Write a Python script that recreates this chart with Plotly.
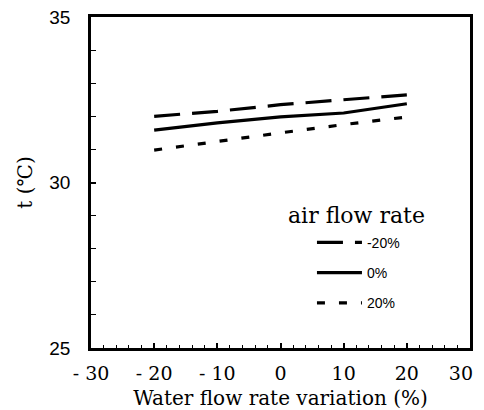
import plotly.graph_objects as go

water_var = [-20, -10, 0, 10, 20]
t_air_m20 = [32.0, 32.15, 32.35, 32.5, 32.65]
t_air_0 = [31.58, 31.8, 31.98, 32.1, 32.38]
t_air_p20 = [30.98, 31.25, 31.5, 31.75, 31.98]
series_names = ["-20%", "0%", "20%"]

x_tickvals = [-30, -20, -10, 0, 10, 20, 30]
x_ticktext = ["- 30", "- 20", "- 10", "0", "10", "20", "30\u00a0\u00a0\u00a0"]
y_tickvals = [25, 30, 35]

fig = go.Figure()
styles = [dict(dash="26px,12px"), dict(dash="solid"), dict(dash="8px,14px")]
for i, (name, ys, st) in enumerate(zip(series_names, [t_air_m20, t_air_0, t_air_p20], styles)):
    fig.add_trace(go.Scatter(x=water_var, y=ys, mode="lines", name=name,
                             legendgroup=f"g{i}",
                             line=dict(color="black", width=3.2, dash=st["dash"])))

# page body has an 8px default margin, so the figure is sized/offset to compensate
fig.update_layout(
    width=476, height=402,
    margin=dict(l=83, r=14, t=9, b=62, autoexpand=False),
    paper_bgcolor="white", plot_bgcolor="white",
    showlegend=True,
    legend=dict(x=0.583, y=0.366, xanchor="left", yanchor="top",
                font=dict(family="Liberation Sans Narrow, Liberation Sans", size=14, color="black"),
                itemwidth=45, tracegroupgap=9, traceorder="grouped",
                bgcolor="rgba(0,0,0,0)"),
    annotations=[dict(text="air flow rate", xref="paper", yref="paper",
                      x=0.7, y=0.40, xanchor="center", yanchor="middle",
                      showarrow=False,
                      font=dict(family="DejaVu Serif", size=22, color="black"))],
)

fig.update_xaxes(range=[-30, 30], tickvals=x_tickvals, ticktext=x_ticktext,
                 ticks="inside", ticklen=5, tickwidth=1.5, tickcolor="black",
                 minor=dict(dtick=2, ticks="inside", ticklen=3, tickwidth=1, tickcolor="black"),
                 showline=True, linecolor="black", linewidth=2.8, mirror=True,
                 showgrid=False, zeroline=False, automargin=False,
                 ticklabeloverflow="allow",
                 tickfont=dict(family="DejaVu Serif", size=19, color="black"),
                 ticklabelstandoff=6,
                 title=dict(text="Water flow rate variation (%)", standoff=18,
                            font=dict(family="DejaVu Serif", size=20, color="black")))
fig.update_yaxes(range=[25, 35], tickvals=y_tickvals,
                 ticks="inside", ticklen=5, tickwidth=1.5, tickcolor="black",
                 minor=dict(dtick=1, ticks="inside", ticklen=5, tickwidth=1.2, tickcolor="black"),
                 showline=True, linecolor="black", linewidth=2.8, mirror=True,
                 showgrid=False, zeroline=False, automargin=False,
                 ticklabeloverflow="allow",
                 tickfont=dict(family="Liberation Sans", size=19, color="black"),
                 ticklabelstandoff=14,
                 title=dict(text="t (℃)", standoff=12,
                            font=dict(family="DejaVu Serif", size=20, color="black")))

fig.write_html("out.html")
